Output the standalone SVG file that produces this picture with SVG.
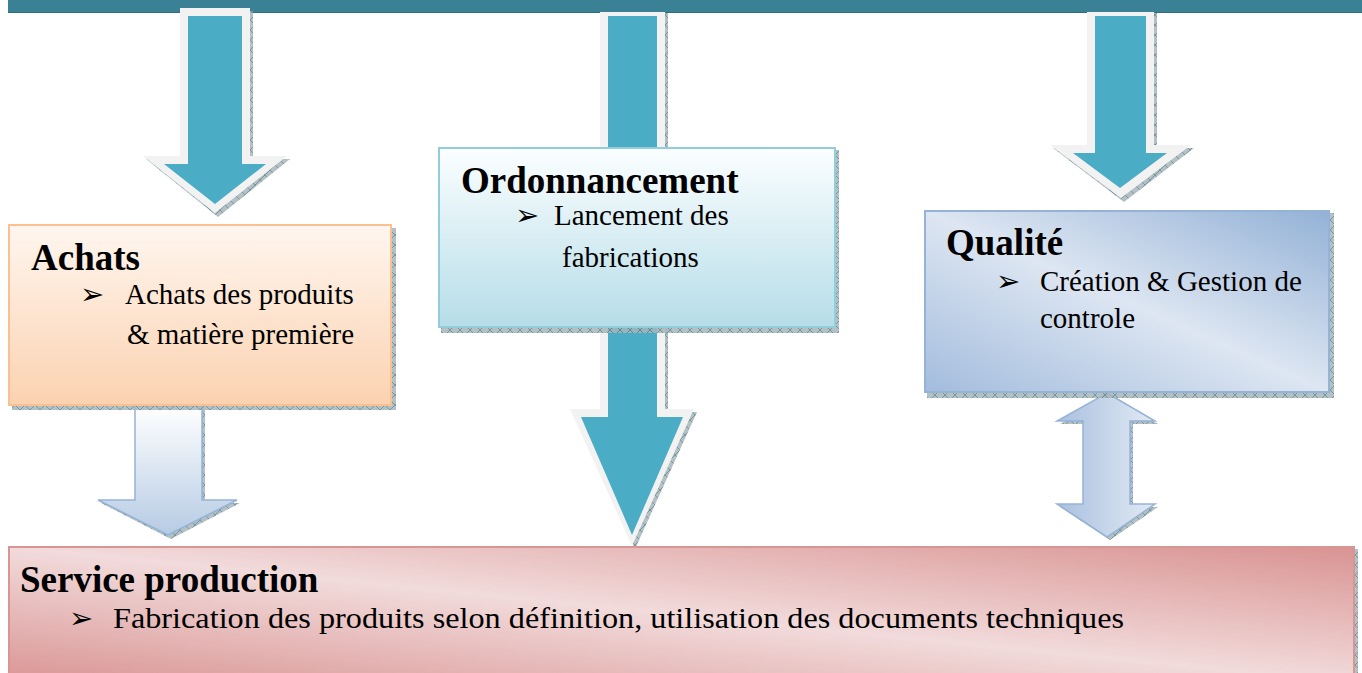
<svg xmlns="http://www.w3.org/2000/svg" width="1362" height="673" viewBox="0 0 1362 673">
  <defs>
    <style>
      .head { font-family: "Liberation Serif", "Times New Roman", serif; font-weight: bold; font-size: 37px; fill: #000; }
      .body { font-family: "Liberation Serif", "Times New Roman", serif; font-size: 29px; fill: #000; }
      .bullet { font-family: "DejaVu Sans", sans-serif; font-size: 29px; fill: #000; }
      .shadow { fill: url(#hatch); opacity: 0.85; }
      .arrow-rim { fill: #f2f2f2; }
      .arrow-core { fill: #4bacc6; }
      .arrow-soft { fill: url(#softBlue); stroke: #95b3d7; stroke-width: 1.5; }
    </style>
    <!-- hatched drop shadow -->
    <pattern id="hatch" width="10" height="10" patternUnits="userSpaceOnUse">
      <rect width="10" height="10" fill="#a6b6ba"/>
      <path d="M0 0L10 10M10 0L0 10" stroke="#43707d" stroke-width="0.7"/>
    </pattern>
    <linearGradient id="peach" x1="0" y1="0" x2="0" y2="1">
      <stop offset="0" stop-color="#fff6ef"/>
      <stop offset="1" stop-color="#fbd2b0"/>
    </linearGradient>
    <linearGradient id="aqua" x1="0" y1="0" x2="0" y2="1">
      <stop offset="0" stop-color="#fbfeff"/>
      <stop offset="1" stop-color="#b6dde8"/>
    </linearGradient>
    <linearGradient id="blueDiag" x1="1" y1="0" x2="0" y2="1">
      <stop offset="0" stop-color="#93b1d6"/>
      <stop offset="0.5" stop-color="#dde6f2"/>
      <stop offset="1" stop-color="#a3bcdd"/>
    </linearGradient>
    <linearGradient id="roseDiag" x1="1" y1="0" x2="0" y2="1">
      <stop offset="0" stop-color="#d99392"/>
      <stop offset="0.5" stop-color="#f2dbdb"/>
      <stop offset="1" stop-color="#d99594"/>
    </linearGradient>
    <linearGradient id="softBlue" x1="0" y1="0" x2="0" y2="1">
      <stop offset="0" stop-color="#ffffff"/>
      <stop offset="1" stop-color="#b6cbe4"/>
    </linearGradient>
    <linearGradient id="softBlueH" x1="0" y1="0" x2="1" y2="0">
      <stop offset="0" stop-color="#a9c0df"/>
      <stop offset="1" stop-color="#e2eaf4"/>
    </linearGradient>
  </defs>

  <rect width="1362" height="673" fill="#ffffff"/>

  <!-- header band -->
  <g id="top-bar">
    <rect x="8" y="0" width="1354" height="13" fill="#3a8196"/>
    <rect x="8" y="12" width="1354" height="1" fill="#2f6f80"/>
  </g>

  <g id="connectors">
    <!-- left arrow: header to Achats -->
    <g id="arrow-achats-in">
      <polygon class="shadow" points="183,11 253,11 253,159 290,159 218,217 146,159 183,159"/>
      <polygon class="arrow-rim" points="180,8 250,8 250,156 287,156 215,213 143,156 180,156"/>
      <polygon class="arrow-core" points="188,16 242,16 242,164 266,164 215,204 164,164 188,164"/>
    </g>
    <!-- centre arrow: header through Ordonnancement to Service production -->
    <g id="arrow-ordo">
      <polygon class="shadow" points="603,13 668,13 668,412 697,412 635,549 573,412 603,412"/>
      <polygon class="arrow-rim" points="600,12 665,12 665,409 694,409 632,546 570,409 600,409"/>
      <polygon class="arrow-core" points="608,16 657,16 657,417 683,417 632,535 581,417 608,417"/>
    </g>
    <!-- right arrow: header to Qualité -->
    <g id="arrow-qualite-in">
      <polygon class="shadow" points="1090,13 1157,13 1157,148 1194,148 1124,202 1053,148 1090,148"/>
      <polygon class="arrow-rim" points="1087,12 1154,12 1154,145 1191,145 1121,198 1050,145 1087,145"/>
      <polygon class="arrow-core" points="1095,16 1146,16 1146,153 1167,153 1120,188 1073,153 1095,153"/>
    </g>
    <!-- Achats to Service production -->
    <g id="arrow-achats-out">
      <polygon class="shadow" points="138,409 205,409 205,503 240,503 171,539 101,503 138,503"/>
      <polygon class="arrow-soft" points="135,406 202,406 202,500 237,500 168,535 98,500 135,500"/>
    </g>
    <!-- Qualité to/from Service production -->
    <g id="arrow-qualite-both">
      <polygon class="shadow" points="1110,396 1158,424 1133,424 1133,507 1158,507 1110,540 1060,507 1086,507 1086,424 1060,424"/>
      <polygon points="1107,393 1155,421 1130,421 1130,504 1155,504 1107,537 1057,504 1083,504 1083,421 1057,421" fill="url(#softBlueH)" stroke="#95b3d7" stroke-width="1.5"/>
    </g>
  </g>

  <g id="achats">
    <rect class="shadow" x="12" y="228" width="384" height="182"/>
    <rect x="9" y="225" width="382" height="180" fill="url(#peach)" stroke="#fac090" stroke-width="2"/>
    <text class="head" x="31" y="270">Achats</text>
    <text class="bullet" x="80" y="304">➢</text>
    <text class="body" x="125" y="304">Achats des produits</text>
    <text class="body" x="127" y="344">&amp; matière première</text>
  </g>

  <g id="ordonnancement">
    <rect class="shadow" x="441" y="150" width="398" height="183" opacity="0.7"/>
    <rect x="439" y="148" width="396" height="179" fill="url(#aqua)" stroke="#92cddc" stroke-width="2"/>
    <text class="head" x="461" y="193">Ordonnancement</text>
    <text class="bullet" x="515" y="225">➢</text>
    <text class="body" x="554" y="225">Lancement des</text>
    <text class="body" x="562" y="267">fabrications</text>
  </g>

  <g id="qualite">
    <rect class="shadow" x="927" y="213" width="407" height="185"/>
    <rect x="925" y="211" width="404" height="181" fill="url(#blueDiag)" stroke="#95b3d7" stroke-width="2"/>
    <text class="head" x="946" y="255">Qualité</text>
    <text class="bullet" x="996" y="291">➢</text>
    <text class="body" x="1040" y="291">Création &amp; Gestion de</text>
    <text class="body" x="1040" y="328">controle</text>
  </g>

  <g id="service-production">
    <rect class="shadow" x="12" y="549" width="1346" height="140"/>
    <rect x="9" y="547" width="1345" height="136" fill="url(#roseDiag)" stroke="#d99594" stroke-width="2"/>
    <text class="head" x="20" y="592">Service production</text>
    <text class="bullet" x="69" y="628">➢</text>
    <text class="body" x="113" y="628" textLength="1011" lengthAdjust="spacingAndGlyphs">Fabrication des produits selon définition, utilisation des  documents techniques</text>
  </g>
</svg>
